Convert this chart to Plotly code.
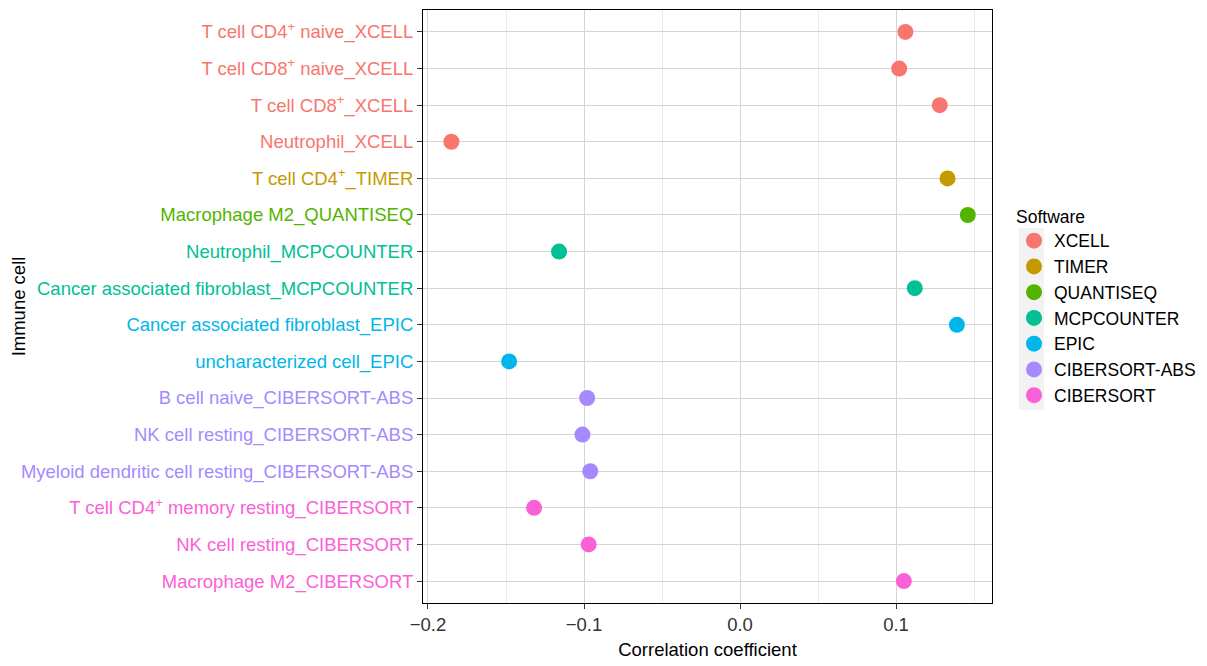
import plotly.graph_objects as go

software_order = ["XCELL", "TIMER", "QUANTISEQ", "MCPCOUNTER", "EPIC", "CIBERSORT-ABS", "CIBERSORT"]
software_colors = ["#F8766D", "#C49A00", "#53B400", "#00C094", "#00B6EB", "#A58AFF", "#FB61D7"]

cells = [
    "T cell CD4+ naive_XCELL",
    "T cell CD8+ naive_XCELL",
    "T cell CD8+_XCELL",
    "Neutrophil_XCELL",
    "T cell CD4+_TIMER",
    "Macrophage M2_QUANTISEQ",
    "Neutrophil_MCPCOUNTER",
    "Cancer associated fibroblast_MCPCOUNTER",
    "Cancer associated fibroblast_EPIC",
    "uncharacterized cell_EPIC",
    "B cell naive_CIBERSORT-ABS",
    "NK cell resting_CIBERSORT-ABS",
    "Myeloid dendritic cell resting_CIBERSORT-ABS",
    "T cell CD4+ memory resting_CIBERSORT",
    "NK cell resting_CIBERSORT",
    "Macrophage M2_CIBERSORT",
]
cell_software = [
    "XCELL", "XCELL", "XCELL", "XCELL", "TIMER", "QUANTISEQ",
    "MCPCOUNTER", "MCPCOUNTER", "EPIC", "EPIC",
    "CIBERSORT-ABS", "CIBERSORT-ABS", "CIBERSORT-ABS",
    "CIBERSORT", "CIBERSORT", "CIBERSORT",
]
correlation = [
    0.106, 0.102, 0.128, -0.185, 0.133, 0.146,
    -0.116, 0.112, 0.139, -0.148,
    -0.098, -0.101, -0.096,
    -0.132, -0.097, 0.105,
]

color_map = dict(zip(software_order, software_colors))
FONT = "Liberation Sans, Arial, Helvetica, sans-serif"
FS = 18.5
LFS = 17.5

# page offset compensation (body margin 8px)
W, H = 1207, 666
PL, PR, PT, PB = 423 - 8, 992 - 8, 10 - 8, 603 - 8  # panel edges in figure px
PW, PH = PR - PL, PB - PT

fig = go.Figure()
for sw in software_order:
    xs = [c for c, s in zip(correlation, cell_software) if s == sw]
    ys = [n for n, s in zip(cells, cell_software) if s == sw]
    fig.add_trace(go.Scatter(
        x=xs, y=ys, mode="markers", name=sw,
        marker=dict(color=color_map[sw], size=16),
    ))

def fmt(label):
    return label.replace("CD4+", "CD4<sup>+</sup>").replace("CD8+", "CD8<sup>+</sup>")

ticktext = [f'<span style="color:{color_map[s]}">{fmt(c)}</span>' for c, s in zip(cells, cell_software)]

fig.update_layout(
    width=W, height=H,
    margin=dict(l=PL, r=W - PR, t=PT, b=H - PB),
    plot_bgcolor="white", paper_bgcolor="white",
    font=dict(family=FONT, size=FS, color="black"),
    showlegend=True,
    legend=dict(
        title=dict(text="Software", font=dict(size=LFS, color="black")),
        x=(1014 - 8 - PL) / PW, xanchor="left", y=1 - (200 - 8 - PT) / PH, yanchor="top",
        font=dict(size=LFS, color="black"),
        bgcolor="rgba(0,0,0,0)",
        tracegroupgap=0, itemsizing="trace",
    ),
    xaxis=dict(
        range=[-0.2032, 0.1615],
        tickvals=[-0.2, -0.1, 0.0, 0.1],
        ticktext=["\u22120.2", "\u22120.1", "0.0", "0.1"],
        showgrid=True, gridcolor="#d4d4d4", gridwidth=1,
        minor=dict(tickvals=[-0.15, -0.05, 0.05, 0.15], showgrid=True, gridcolor="#ebebeb", gridwidth=1),
        zeroline=False,
        showline=True, linecolor="black", linewidth=1, mirror=True,
        ticks="outside", ticklen=5, tickcolor="#333333",
        tickfont=dict(size=FS, color="#333333"),
        title=dict(text="Correlation coefficient", font=dict(size=FS, color="black"), standoff=8),
    ),
    yaxis=dict(
        type="category",
        categoryorder="array", categoryarray=cells[::-1],
        range=[-0.6, 15.6],
        tickvals=cells, ticktext=ticktext,
        showgrid=True, gridcolor="#d4d4d4", gridwidth=1,
        zeroline=False,
        showline=True, linecolor="black", linewidth=1, mirror=True,
        ticks="outside", ticklen=5, tickcolor="#333333",
        tickfont=dict(size=FS),
        automargin=False,
        title=dict(text="Immune cell", font=dict(size=FS, color="black"), standoff=6),
    ),
)

fig.add_shape(
    type="rect", xref="paper", yref="paper", layer="below",
    x0=(1019 - 8 - PL) / PW, x1=(1044 - 8 - PL) / PW,
    y0=1 - (410 - 8 - PT) / PH, y1=1 - (228 - 8 - PT) / PH,
    fillcolor="#f2f2f2", line=dict(width=0),
)

fig.write_html("out.html")
